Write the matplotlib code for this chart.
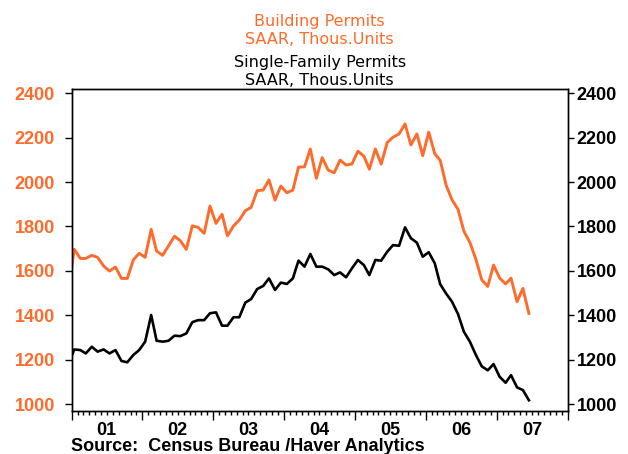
import numpy as np
import pandas as pd
import matplotlib as mpl
import matplotlib.pyplot as plt
import matplotlib.dates as mdates

# monthly values, Dec 2000 .. Jun 2007 (SAAR, thous. units)
first_month = "2000-12-01"
total_permits = [
    1511,
    1697, 1656, 1656, 1670, 1661, 1622, 1599, 1617, 1566, 1566, 1649, 1679,
    1661, 1787, 1689, 1670, 1712, 1756, 1736, 1697, 1803, 1796, 1769, 1892,
    1814, 1855, 1758, 1802, 1829, 1871, 1886, 1961, 1964, 2010, 1919, 1982,
    1952, 1964, 2067, 2069, 2149, 2017, 2110, 2054, 2042, 2099, 2077, 2081,
    2139, 2117, 2058, 2149, 2081, 2178, 2202, 2217, 2262, 2167, 2217, 2119,
    2225, 2128, 2098, 1985, 1920, 1877, 1779, 1728, 1652, 1560, 1530, 1626,
    1568, 1541, 1567, 1461, 1521, 1408]
single_family = [
    1180,
    1246, 1243, 1228, 1258, 1236, 1246, 1228, 1243, 1194, 1188, 1221, 1243,
    1281, 1401, 1285, 1281, 1285, 1308, 1306, 1318, 1369, 1378, 1378, 1409,
    1413, 1353, 1353, 1391, 1391, 1457, 1473, 1518, 1532, 1566, 1514, 1547,
    1541, 1566, 1646, 1619, 1676, 1619, 1619, 1607, 1581, 1593, 1571, 1611,
    1649, 1626, 1581, 1649, 1646, 1686, 1716, 1713, 1796, 1747, 1727, 1664,
    1684, 1634, 1540, 1497, 1461, 1405, 1326, 1281, 1221, 1170, 1152, 1180,
    1123, 1096, 1130, 1075, 1063, 1017]

years = [2001, 2002, 2003, 2004, 2005, 2006, 2007]
year_labels = ["01", "02", "03", "04", "05", "06", "07"]
yticks = [1000, 1200, 1400, 1600, 1800, 2000, 2200, 2400]

ORANGE = "#FF6B2B"
TICKFONT = dict(family="Liberation Sans", weight="bold", size=13)
TITLEFONT = dict(family="DejaVu Sans", size=11.5)


def build_figure():
    # plotted at mid-month like the haver charts
    dates = pd.date_range(first_month, periods=len(total_permits), freq="MS")
    dates = dates + pd.Timedelta(days=14)

    fig = plt.figure(figsize=(6.28, 4.54), dpi=100)
    ax = fig.add_axes([0.114, 0.0954, 0.790, 0.7079])
    ax2 = ax.twinx()

    ax.plot(dates, total_permits, color=ORANGE, lw=2.1, clip_on=True)
    ax2.plot(dates, single_family, color="black", lw=1.9, clip_on=True)

    for a in (ax, ax2):
        _ = a.set_ylim(970, 2418)
        _ = a.set_yticks(yticks)
        for sp in a.spines.values():
            sp.set_linewidth(1.0)
            sp.set_color("black")

    _ = ax.set_yticklabels([str(t) for t in yticks], fontdict=TICKFONT,
                           color=ORANGE)
    _ = ax2.set_yticklabels([str(t) for t in yticks], fontdict=TICKFONT,
                            color="black")
    ax.tick_params(axis="y", direction="out", length=5, width=1, pad=7)
    ax2.tick_params(axis="y", direction="out", length=4.5, width=1, pad=2)

    # x axis: year boundaries as major ticks, months as minor
    _ = ax.set_xlim(pd.Timestamp("2001-01-01"), pd.Timestamp("2008-01-01"))
    ax.xaxis.set_major_locator(mdates.YearLocator())
    ax.xaxis.set_minor_locator(mdates.MonthLocator())
    ax.xaxis.set_major_formatter(mpl.ticker.NullFormatter())
    ax.tick_params(axis="x", which="major", direction="out", length=6.5,
                   width=1)
    ax.tick_params(axis="x", which="minor", direction="out", length=3,
                   width=1)
    for yr, lab in zip(years, year_labels):
        ax.annotate(lab, xy=(pd.Timestamp(f"{yr}-07-01"), 0),
                    xycoords=("data", "axes fraction"),
                    xytext=(0, -14), textcoords="offset points",
                    ha="center", va="center", **TICKFONT)

    # titles
    cx = 0.509
    fig.text(cx, 1 - 26 / 454, "Building Permits", color=ORANGE,
             ha="center", va="baseline", **TITLEFONT)
    fig.text(cx, 1 - 44 / 454, "SAAR, Thous.Units", color=ORANGE,
             ha="center", va="baseline", **TITLEFONT)
    fig.text(cx, 1 - 67.5 / 454, "Single-Family Permits", color="black",
             ha="center", va="baseline", **TITLEFONT)
    fig.text(cx, 1 - 85 / 454, "SAAR, Thous.Units", color="black",
             ha="center", va="baseline", **TITLEFONT)

    fig.text(71 / 628, 1 - 451 / 454,
             "Source:  Census Bureau /Haver Analytics",
             ha="left", va="baseline", **TICKFONT)
    return fig


fig = build_figure()
fig.savefig("out.png", dpi=100)
